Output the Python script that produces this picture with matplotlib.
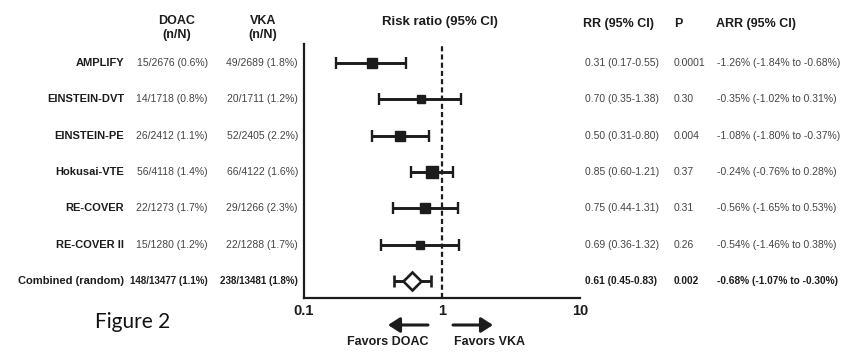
import matplotlib
matplotlib.use("Agg")
import matplotlib.pyplot as plt
import matplotlib.transforms as mtransforms

# Data
trials = ["AMPLIFY", "EINSTEIN-DVT", "EINSTEIN-PE", "Hokusai-VTE",
          "RE-COVER", "RE-COVER II", "Combined (random)"]
doac_n = [15, 14, 26, 56, 22, 15, 148]
doac_N = [2676, 1718, 2412, 4118, 1273, 1280, 13477]
vka_n = [49, 20, 52, 66, 29, 22, 238]
vka_N = [2689, 1711, 2405, 4122, 1266, 1288, 13481]
rr = [0.31, 0.70, 0.50, 0.85, 0.75, 0.69, 0.61]
rr_lo = [0.17, 0.35, 0.31, 0.60, 0.44, 0.36, 0.45]
rr_hi = [0.55, 1.38, 0.80, 1.21, 1.31, 1.32, 0.83]
p_vals = ["0.0001", "0.30", "0.004", "0.37", "0.31", "0.26", "0.002"]
arr = [-1.26, -0.35, -1.08, -0.24, -0.56, -0.54, -0.68]
arr_lo = [-1.84, -1.02, -1.80, -0.76, -1.65, -1.46, -1.07]
arr_hi = [-0.68, 0.31, -0.37, 0.28, 0.53, 0.38, -0.30]

# square sizes (points) for the individual trials
square_sizes = [7.2, 5.2, 6.6, 8.2, 6.8, 5.2]

W, H = 850, 361
dark = "#1c1c1c"
grey = "#444444"
plt.rcParams["font.family"] = ["Liberation Sans", "DejaVu Sans"]

fig = plt.figure(figsize=(W / 100, H / 100), dpi=100)
fig.patch.set_facecolor("white")

def fx(px):
    return px / W

def fy(py):
    return 1 - py / H

ax = fig.add_axes([fx(304), fy(297.5), fx(580) - fx(304), fy(44) - fy(297.5)])
ax.set_xscale("log")
ax.set_xlim(0.1, 10)
ax.set_ylim(6.45, -0.52)

rows = list(range(len(trials)))
for i in rows:
    err = [[rr[i] - rr_lo[i]], [rr_hi[i] - rr[i]]]
    if i < len(trials) - 1:
        ax.errorbar([rr[i]], [i], xerr=err, fmt="s", color=dark,
                    ms=square_sizes[i], elinewidth=2.1, capsize=4,
                    capthick=1.7, zorder=3)
    else:
        ax.errorbar([rr[i]], [i], xerr=err, fmt="D", color=dark,
                    mfc="white", mec=dark, mew=1.9, ms=9.2, elinewidth=2.1,
                    capsize=4.4, capthick=1.7, zorder=3)

ax.axvline(1, color=dark, lw=1.6, ls=(0, (2.3, 1.4)), zorder=2)

for side in ["top", "right"]:
    ax.spines[side].set_visible(False)
for side in ["left", "bottom"]:
    ax.spines[side].set_linewidth(1.6)
    ax.spines[side].set_color(dark)
ax.set_yticks([])
ax.set_xticks([0.1, 1, 10])
ax.set_xticklabels(["0.1", "1", "10"], fontsize=10.5, fontweight="bold", color=dark)
ax.xaxis.set_minor_locator(matplotlib.ticker.NullLocator())
ax.tick_params(axis="x", length=0, pad=5)

# text columns: x in figure coords, y in data rows
tr = mtransforms.blended_transform_factory(fig.transFigure, ax.transData)
last = len(trials) - 1
for i in rows:
    bold = i == last
    fw = "bold" if bold else "normal"
    col = dark if bold else grey
    fs = 7 if bold else 7.5
    fs_r = 7.3 if bold else 7.5
    ax.text(fx(124), i, trials[i], transform=tr, ha="right", va="center",
            fontsize=8, fontweight="bold", color=dark)
    ax.text(fx(208), i, f"{doac_n[i]}/{doac_N[i]} ({100 * doac_n[i] / doac_N[i]:.1f}%)",
            transform=tr, ha="right", va="center", fontsize=fs, fontweight=fw, color=col)
    ax.text(fx(298), i, f"{vka_n[i]}/{vka_N[i]} ({100 * vka_n[i] / vka_N[i]:.1f}%)",
            transform=tr, ha="right", va="center", fontsize=fs, fontweight=fw, color=col)
    ax.text(fx(585), i, f"{rr[i]:.2f} ({rr_lo[i]:.2f}-{rr_hi[i]:.2f})",
            transform=tr, ha="left", va="center", fontsize=fs_r, fontweight=fw, color=col)
    ax.text(fx(674), i, p_vals[i], transform=tr, ha="left", va="center",
            fontsize=fs_r, fontweight=fw, color=col)
    ax.text(fx(717), i, f"{arr[i]:.2f}% ({arr_lo[i]:.2f}% to {arr_hi[i]:.2f}%)",
            transform=tr, ha="left", va="center", fontsize=fs_r, fontweight=fw, color=col)

# headers
fig.text(fx(177), fy(21), "DOAC", ha="center", va="center", fontsize=9, fontweight="bold", color=dark)
fig.text(fx(177), fy(35), "(n/N)", ha="center", va="center", fontsize=9, fontweight="bold", color=dark)
fig.text(fx(263), fy(21), "VKA", ha="center", va="center", fontsize=9, fontweight="bold", color=dark)
fig.text(fx(263), fy(35), "(n/N)", ha="center", va="center", fontsize=9, fontweight="bold", color=dark)
fig.text(fx(440), fy(22), "Risk ratio (95% CI)", ha="center", va="center", fontsize=9.5, fontweight="bold", color=dark)
fig.text(fx(583), fy(24), "RR (95% CI)", ha="left", va="center", fontsize=9, fontweight="bold", color=dark)
fig.text(fx(674), fy(24), "P", ha="left", va="center", fontsize=9, fontweight="bold", color=dark)
fig.text(fx(716), fy(24), "ARR (95% CI)", ha="left", va="center", fontsize=9, fontweight="bold", color=dark)

# favours arrows
arrow_kw = dict(arrowstyle="-|>,head_length=0.7,head_width=0.45", lw=2.2, color=dark,
                shrinkA=0, shrinkB=0, mutation_scale=10)
fig.add_artist(matplotlib.patches.FancyArrowPatch((fx(428), fy(325)), (fx(388), fy(325)),
                                                  transform=fig.transFigure, **arrow_kw))
fig.add_artist(matplotlib.patches.FancyArrowPatch((fx(453), fy(325)), (fx(493), fy(325)),
                                                  transform=fig.transFigure, **arrow_kw))
fig.text(fx(388), fy(342), "Favors DOAC", ha="center", va="center", fontsize=9, fontweight="bold", color=dark)
fig.text(fx(489), fy(342), "Favors VKA", ha="center", va="center", fontsize=9, fontweight="bold", color=dark)

fig.text(fx(95), fy(322), "Figure 2", ha="left", va="center", fontsize=15,
         family=["Lato", "DejaVu Sans"], color="#111111")

fig.savefig("out.png", dpi=100)
